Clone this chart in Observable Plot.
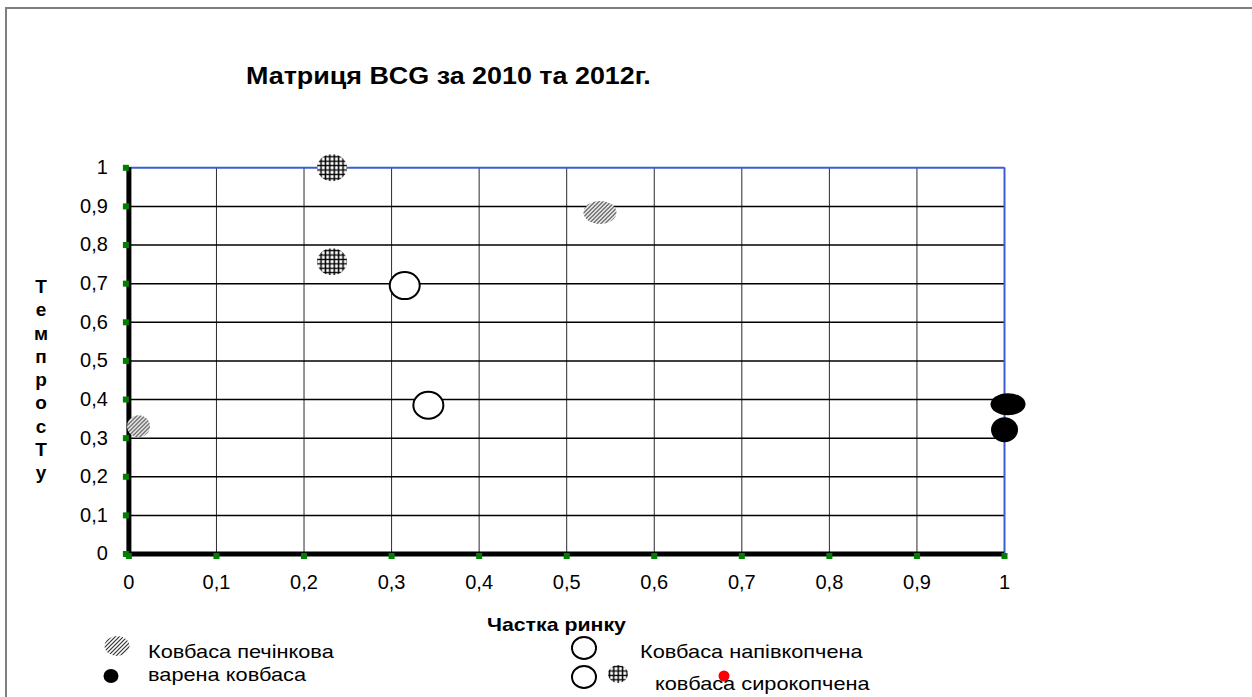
<!DOCTYPE html>
<html><head><meta charset="utf-8">
<script src="https://cdn.jsdelivr.net/npm/d3@7"></script>
<script src="https://cdn.jsdelivr.net/npm/@observablehq/plot@0.6"></script>
<style>
body{margin:0;background:#fff;font-family:"Liberation Sans",Arial,sans-serif;}
#wrap{position:relative;width:1252px;height:697px;overflow:hidden;background:#fff;}
#frame{position:absolute;left:5px;top:7px;width:1400px;height:900px;border:2px solid #7f7f7f;}
.t{position:absolute;white-space:nowrap;color:#000;line-height:1;transform-origin:0 50%;}
#chart{position:absolute;left:0;top:0;}
#chart svg text{font-size:20px;}
#leg{position:absolute;left:0;top:0;}
</style></head><body>
<div id="wrap"><div id="frame"></div><div id="chart"></div>
<svg id="leg" width="1252" height="697"></svg>
</div>
<script>
// ---- data ----
const xTicks = [0, 0.1, 0.2, 0.3, 0.4, 0.5, 0.6, 0.7, 0.8, 0.9, 1];
const yTicks = [0, 0.1, 0.2, 0.3, 0.4, 0.5, 0.6, 0.7, 0.8, 0.9, 1];
const seriesNames = ["Ковбаса печінкова", "варена ковбаса", "Ковбаса напівкопчена", "ковбаса сирокопчена"];
const pechinkovaX = [0.011, 0.538];
const pechinkovaY = [0.331, 0.884];
const varenaX = [1.004, 1.0];
const varenaY = [0.388, 0.322];
const napivX = [0.315, 0.342];
const napivY = [0.695, 0.385];
const syroX = [0.232, 0.232];
const syroY = [1.0, 0.757];
const titleText = "Матриця BCG за 2010 та 2012г.";
const xLabel = "Частка ринку";
const yLetters = ["Т","е","м","п","р","о","с","Т","у"];

// ---- styles ----
const markerRadii = {
  pechinkova: [[11.5, 11], [16.5, 11.5]],
  varena: [[17.5, 11], [13.5, 12.5]],
  napiv: [[15, 13.5], [15, 13.5]],
  syro: [[15, 13.5], [15, 13.5]]
};
const seriesStyle = {
  pechinkova: {fill: "url(#diag)", stroke: "none"},
  varena: {fill: "#000", stroke: "none"},
  napiv: {fill: "#fff", stroke: "#000", strokeWidth: 2},
  syro: {fill: "url(#cross)", stroke: "none"}
};

// patterns (shared by document)
const leg = d3.select("#leg");
const defs = leg.append("defs");
const pd = defs.append("pattern").attr("id","diag").attr("patternUnits","userSpaceOnUse").attr("width",4).attr("height",4);
pd.append("rect").attr("width",4).attr("height",4).attr("fill","#fff");
pd.append("path").attr("d","M-1,1 L1,-1 M0,4 L4,0 M3,5 L5,3").attr("stroke","#333").attr("stroke-width",1.2);
const pc = defs.append("pattern").attr("id","cross").attr("patternUnits","userSpaceOnUse").attr("width",4.4).attr("height",4.4);
pc.append("rect").attr("width",4.4).attr("height",4.4).attr("fill","#fff");
pc.append("path").attr("d","M2.2,0 V4.4 M0,2.2 H4.4").attr("stroke","#000").attr("stroke-width",1.5);

function ellipseSym(rx, ry) {
  const k = 0.5523;
  return {draw(ctx) {
    ctx.moveTo(rx, 0);
    ctx.bezierCurveTo(rx, ry * k, rx * k, ry, 0, ry);
    ctx.bezierCurveTo(-rx * k, ry, -rx, ry * k, -rx, 0);
    ctx.bezierCurveTo(-rx, -ry * k, -rx * k, -ry, 0, -ry);
    ctx.bezierCurveTo(rx * k, -ry, rx, -ry * k, rx, 0);
    ctx.closePath();
  }};
}

const seriesData = {
  pechinkova: [pechinkovaX, pechinkovaY],
  varena: [varenaX, varenaY],
  napiv: [napivX, napivY],
  syro: [syroX, syroY]
};
const dataMarks = [];
for (const key of Object.keys(seriesData)) {
  const [xs, ys] = seriesData[key];
  xs.forEach((xv, i) => {
    const [rx, ry] = markerRadii[key][i];
    dataMarks.push(Plot.dot([{x: xv, y: ys[i]}], {x: "x", y: "y", r: 5, symbol: ellipseSym(rx, ry), ...seriesStyle[key]}));
  });
}

const fmt = d => String(d).replace(".", ",");
const blue = "#3a5fcd";
const chart = Plot.plot({
  width: 1252, height: 697,
  marginLeft: 128.4, marginRight: 248, marginTop: 167.3, marginBottom: 143.5,
  style: {fontFamily: "'Liberation Sans', Arial, sans-serif", fontSize: "20px", background: "transparent", color: "#000", overflow: "visible"},
  x: {domain: [0, 1], ticks: xTicks, tickFormat: fmt, tickSize: 0, tickPadding: 21, label: null},
  y: {domain: [0, 1], ticks: yTicks, tickFormat: fmt, tickSize: 0, tickPadding: 21, label: null},
  marks: [
    Plot.ruleX(xTicks.filter(d => d > 0 && d < 1), {stroke: "#2a2a2a", strokeWidth: 1}),
    Plot.ruleY(yTicks.filter(d => d > 0 && d < 1), {stroke: "#000", strokeWidth: 1.5}),
    Plot.ruleY([1], {stroke: blue, strokeWidth: 2}),
    Plot.ruleX([1], {stroke: blue, strokeWidth: 2}),
    Plot.ruleX([0], {stroke: "#000", strokeWidth: 5}),
    Plot.ruleY([0], {stroke: "#000", strokeWidth: 5}),
    Plot.dot(yTicks, {x: 0, y: d => d, symbol: "square", r: 3.4, fill: "#008000", dx: -3}),
    Plot.dot(xTicks, {x: d => d, y: 0, symbol: "square", r: 3.4, fill: "#008000", dy: 2}),
    ...dataMarks
  ]
});
document.getElementById("chart").appendChild(chart);

// ---- text ----
const wrap = document.getElementById("wrap");
function addText(txt, css) {
  const d = document.createElement("div");
  d.className = "t";
  d.textContent = txt;
  Object.assign(d.style, css);
  wrap.appendChild(d);
  return d;
}
addText(titleText, {left: "246px", top: "64px", fontSize: "24px", fontWeight: "bold", transform: "scaleX(1.12)"});
const yl = addText("", {left: "28px", top: "275px", width: "26px", textAlign: "center", fontSize: "19px", fontWeight: "bold", lineHeight: "23.25px", whiteSpace: "normal"});
yl.innerHTML = yLetters.join("<br>");
addText(xLabel, {left: "487px", top: "615px", fontSize: "19px", fontWeight: "bold", transform: "scaleX(1.12)"});
addText(seriesNames[0], {left: "148px", top: "642px", fontSize: "19px", transform: "scaleX(1.145)"});
addText(seriesNames[1], {left: "148px", top: "665px", fontSize: "19px", transform: "scaleX(1.145)"});
addText(seriesNames[2], {left: "640px", top: "642px", fontSize: "19px", transform: "scaleX(1.145)"});
addText(seriesNames[3], {left: "655px", top: "674px", fontSize: "19px", transform: "scaleX(1.145)"});

// ---- legend symbols ----
function legEllipse(cx, cy, rx, ry, st) {
  leg.append("ellipse").attr("cx", cx).attr("cy", cy).attr("rx", rx).attr("ry", ry)
    .attr("fill", st.fill).attr("stroke", st.stroke).attr("stroke-width", st.strokeWidth || 0);
}
legEllipse(117, 646, 12.5, 10, seriesStyle.pechinkova);
legEllipse(111, 676, 7.5, 7, seriesStyle.varena);
legEllipse(584, 648, 12, 11, seriesStyle.napiv);
legEllipse(584, 677, 12, 11, seriesStyle.napiv);
legEllipse(618, 674, 10, 9, seriesStyle.syro);
legEllipse(724, 676, 5.5, 5.5, {fill: "#f00", stroke: "none"});
</script>
</body></html>
